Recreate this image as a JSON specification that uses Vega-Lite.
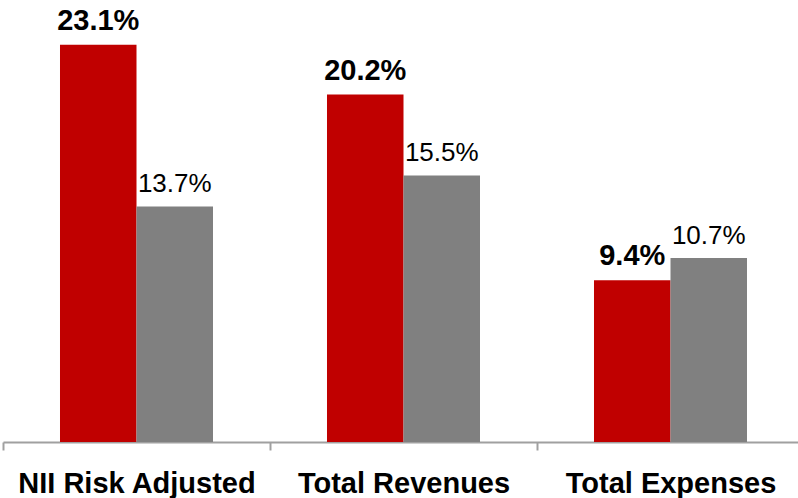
{
  "$schema": "https://vega.github.io/schema/vega-lite/v6.json",
  "width": 801,
  "height": 442,
  "padding": {"left": 3, "top": 0, "right": 0, "bottom": 56},
  "autosize": {"type": "none"},
  "background": "white",
  "config": {"view": {"stroke": null}, "font": "Liberation Sans"},
  "data": {
    "values": [
      {"category": "NII Risk Adjusted", "series": "A", "value": 23.1, "label": "23.1%"},
      {"category": "NII Risk Adjusted", "series": "B", "value": 13.7, "label": "13.7%"},
      {"category": "Total Revenues", "series": "A", "value": 20.2, "label": "20.2%"},
      {"category": "Total Revenues", "series": "B", "value": 15.5, "label": "15.5%"},
      {"category": "Total Expenses", "series": "A", "value": 9.4, "label": "9.4%"},
      {"category": "Total Expenses", "series": "B", "value": 10.7, "label": "10.7%"}
    ]
  },
  "encoding": {
    "x": {
      "field": "category",
      "type": "nominal",
      "sort": null,
      "scale": {"paddingInner": 0, "paddingOuter": 0},
      "axis": {
        "title": null,
        "labelAngle": 0,
        "tickBand": "extent",
        "domainColor": "#A0A0A0",
        "domainWidth": 2,
        "tickColor": "#A0A0A0",
        "tickWidth": 2,
        "tickSize": 8,
        "labelFont": "Liberation Sans",
        "labelFontSize": 29,
        "labelFontWeight": "bold",
        "labelColor": "#000000",
        "labelLimit": 0,
        "labelPadding": 19
      }
    },
    "xOffset": {
      "field": "series",
      "type": "nominal",
      "sort": null,
      "scale": {"paddingInner": 0, "paddingOuter": 0.745}
    },
    "y": {
      "field": "value",
      "type": "quantitative",
      "scale": {"domain": [0, 25.7], "nice": false, "zero": true},
      "axis": null
    }
  },
  "layer": [
    {
      "mark": {"type": "bar"},
      "encoding": {
        "color": {
          "field": "series",
          "type": "nominal",
          "scale": {"domain": ["A", "B"], "range": ["#C00000", "#808080"]},
          "legend": null
        }
      }
    },
    {
      "transform": [{"filter": "datum.series === 'A'"}],
      "mark": {"type": "text", "baseline": "alphabetic", "dy": -15, "fontSize": 29, "fontWeight": "bold", "color": "#000000", "font": "Liberation Sans"},
      "encoding": {"text": {"field": "label"}}
    },
    {
      "transform": [{"filter": "datum.series === 'B'"}],
      "mark": {"type": "text", "baseline": "alphabetic", "dy": -14, "fontSize": 26, "fontWeight": "normal", "color": "#000000", "font": "Liberation Sans"},
      "encoding": {"text": {"field": "label"}}
    }
  ]
}
